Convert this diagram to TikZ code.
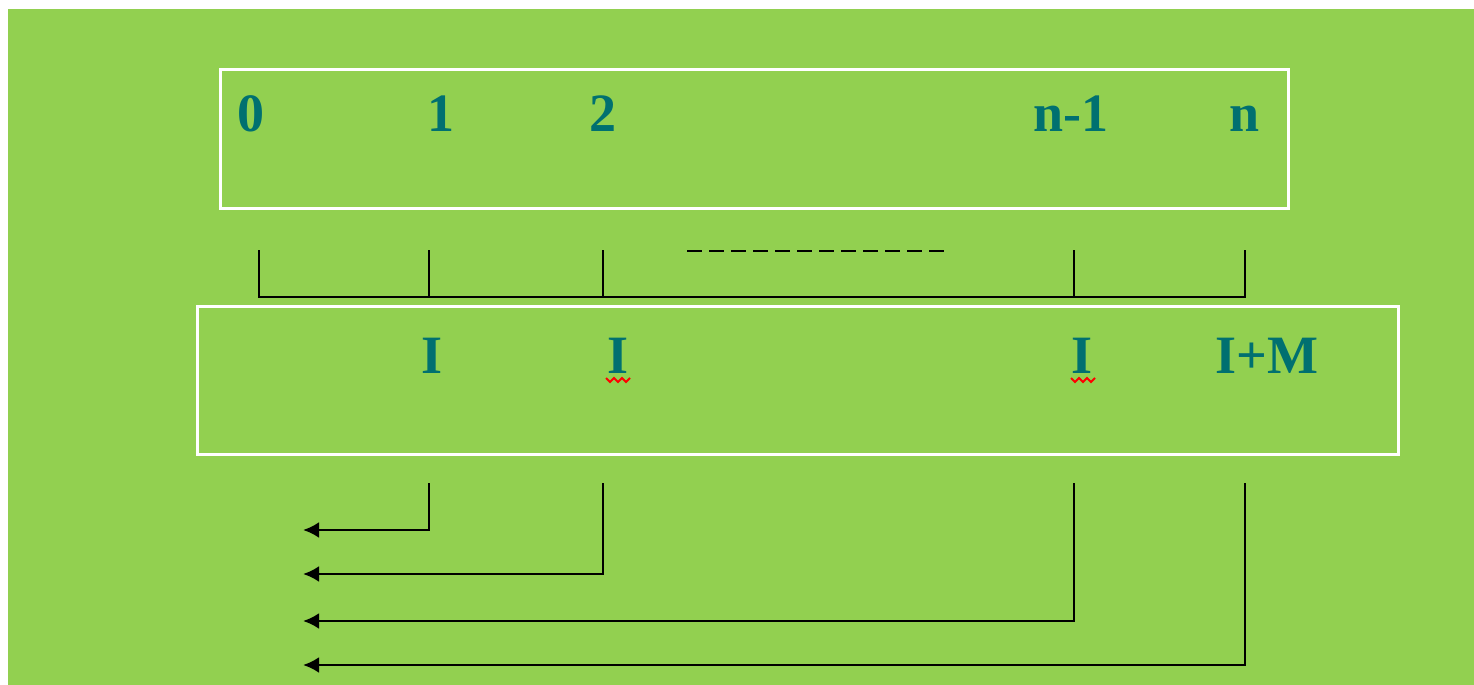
\documentclass[tikz,border=0pt]{standalone}
\usepackage{fontspec}
\setmainfont{Liberation Serif}
\usetikzlibrary{arrows.meta}
\definecolor{bggreen}{RGB}{146,208,80}
\definecolor{teal}{RGB}{0,112,112}
\begin{document}
\begin{tikzpicture}[x=0.5pt,y=-0.5pt,
  lbl/.style={anchor=base,inner sep=0pt,text=teal,font=\fontsize{27}{30}\selectfont\bfseries},
  wbox/.style={draw=white,line width=1.5pt},
  conn/.style={draw=black,line width=1.4pt},
  arr/.style={conn,-{Latex[length=8pt,width=8pt]}},
  squig/.style={draw=red,line width=0.9pt}]
\useasboundingbox (0,0) rectangle (1474,685);
\fill[white] (0,0) rectangle (1474,685);
\fill[bggreen] (8,9) rectangle (1474,685);
% boxes
\node[wbox,minimum width=1068*0.5pt,minimum height=139*0.5pt,inner sep=0pt,anchor=north west] (box1) at (218.5,67.5) {};
\node[wbox,minimum width=1201*0.5pt,minimum height=148*0.5pt,inner sep=0pt,anchor=north west] (box2) at (195.5,304.5) {};
% top labels
\node[lbl] (t0) at (251,131) {0};
\node[lbl] (t1) at (441,131) {1};
\node[lbl] (t2) at (603,131) {2};
\node[lbl] (tn1) at (1071,131) {n-1};
\node[lbl] (tn) at (1245,131) {n};
% bottom labels
\node[lbl] (b1) at (432,373) {I};
\node[lbl] (b2) at (618,373) {I};
\node[lbl] (b3) at (1082,373) {I};
\node[lbl] (b4) at (1267,373) {I+M};
% spell-check squiggles
\draw[squig] (606,378) -- (610,382) -- (614,378) -- (618,382) -- (622,378) -- (626,382) -- (630,378);
\draw[squig] (1071,378) -- (1075,382) -- (1079,378) -- (1083,382) -- (1087,378) -- (1091,382) -- (1095,378);
% bracket
\coordinate (u0) at (259,250); \coordinate (v0) at (259,297);
\coordinate (u1) at (429,250); \coordinate (v1) at (429,297);
\coordinate (u2) at (603,250); \coordinate (v2) at (603,297);
\coordinate (u3) at (1074,250); \coordinate (v3) at (1074,297);
\coordinate (u4) at (1245,250); \coordinate (v4) at (1245,297);
\draw[conn] (u0) -- (v0) -- (v4) -- (u4);
\draw[conn] (u1) -- (v1);
\draw[conn] (u2) -- (v2);
\draw[conn] (u3) -- (v3);
\coordinate (d1) at (687,251); \coordinate (d2) at (946,251);
\draw[conn,dash pattern=on 7.5pt off 3.5pt] (d1) -- (d2);
% lower arrows
\coordinate (s1) at (429,483); \coordinate (c1) at (429,530); \coordinate (e1) at (303,530);
\coordinate (s2) at (603,483); \coordinate (c2) at (603,574); \coordinate (e2) at (303,574);
\coordinate (s3) at (1074,483); \coordinate (c3) at (1074,621); \coordinate (e3) at (303,621);
\coordinate (s4) at (1245,483); \coordinate (c4) at (1245,665); \coordinate (e4) at (303,665);
\draw[arr] (s1) -- (c1) -- (e1);
\draw[arr] (s2) -- (c2) -- (e2);
\draw[arr] (s3) -- (c3) -- (e3);
\draw[arr] (s4) -- (c4) -- (e4);
\end{tikzpicture}
\end{document}
